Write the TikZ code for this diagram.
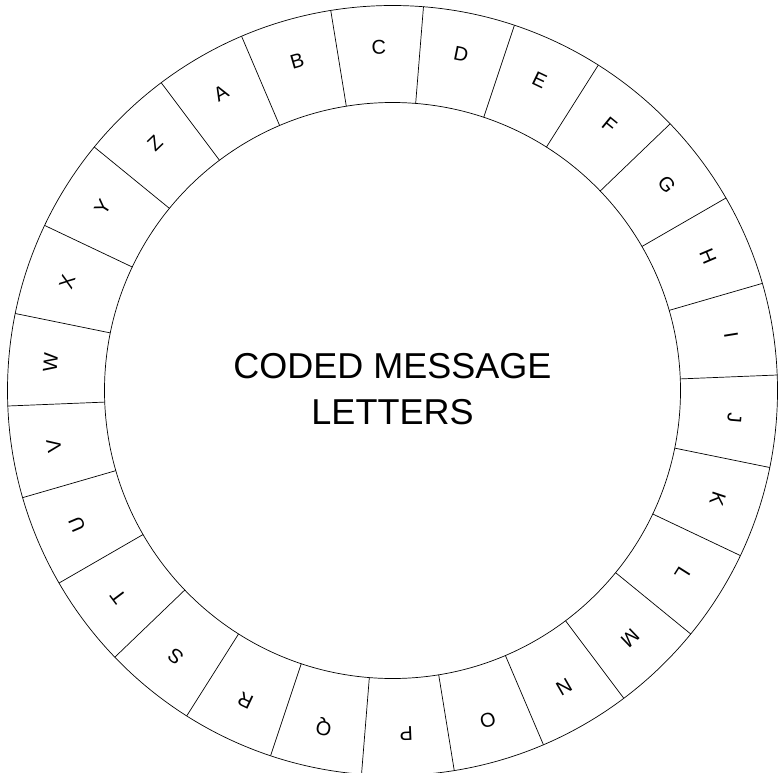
\documentclass[tikz,border=0pt]{standalone}
\usepackage{fontspec}
\setmainfont{Liberation Sans}
\begin{document}
\begin{tikzpicture}[x=1pt, y=1pt, line width=0.7pt,
  letter/.style={inner sep=0pt, font=\fontsize{20}{24}\selectfont},
  caption/.style={align=center, inner sep=0pt, font=\fontsize{36}{46}\selectfont}]

  % canvas: reference is 783 x 772, wheel centre at (392.5,390.5) from top left
  \clip (-392.5,-381.5) rectangle (390.5,390.5);

  %% ring
  \draw (0,0) circle (385);
  \draw (0,0) circle (288);

  %% sectors and letters, A centred at 120 deg, going clockwise
  \foreach \ch [count=\i from 0] in {A,B,C,D,E,F,G,H,I,J,K,L,M,N,O,P,Q,R,S,T,U,V,W,X,Y,Z}{
    \pgfmathsetmacro\ang{120-13.84615*\i}
    \pgfmathsetmacro\edge{\ang+6.923}
    \draw (\edge:288) -- (\edge:385);
    \node[letter, rotate=\ang-90] (L\ch) at (\ang:343) {\ch};
  }

  %% centre text
  \node[caption] (title) at (0,1.5) {CODED MESSAGE\\LETTERS};
\end{tikzpicture}
\end{document}
